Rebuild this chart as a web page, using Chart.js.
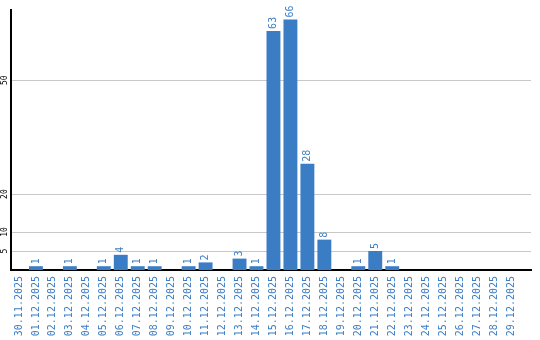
<!DOCTYPE html>
<html>
<head>
<meta charset="utf-8">
<script src="https://cdn.jsdelivr.net/npm/chart.js@4/dist/chart.umd.min.js"></script>
<style>
html,body{margin:0;padding:0;background:#fff;}
#wrap{width:540px;height:340px;position:relative;}
</style>
</head>
<body>
<div id="wrap"><canvas id="c" width="540" height="340"></canvas></div>
<script>
const categories = ["30.11.2025","01.12.2025","02.12.2025","03.12.2025","04.12.2025","05.12.2025","06.12.2025","07.12.2025","08.12.2025","09.12.2025","10.12.2025","11.12.2025","12.12.2025","13.12.2025","14.12.2025","15.12.2025","16.12.2025","17.12.2025","18.12.2025","19.12.2025","20.12.2025","21.12.2025","22.12.2025","23.12.2025","24.12.2025","25.12.2025","26.12.2025","27.12.2025","28.12.2025","29.12.2025"];
const values = [0,1,0,1,0,1,4,1,1,0,1,2,0,3,1,63,66,28,8,0,1,5,1,0,0,0,0,0,0,0];
const yTicks = [5,10,20,50];

const BLUE = '#3b7dc4';
const FONT = {family:'"DejaVu Sans Mono", monospace', size:10};

const points = values.map((v,i)=>({x:i,y:v}));

const valueLabels = {
  id:'valueLabels',
  afterDatasetsDraw(chart){
    const ctx = chart.ctx;
    const meta = chart.getDatasetMeta(0);
    ctx.save();
    ctx.fillStyle = BLUE;
    ctx.font = FONT.size + 'px ' + FONT.family;
    ctx.textAlign = 'left';
    ctx.textBaseline = 'middle';
    meta.data.forEach((bar,i)=>{
      const v = values[i];
      if (!v) return;
      ctx.save();
      ctx.translate(bar.x, bar.y - 2);
      ctx.rotate(-Math.PI/2);
      ctx.fillText(String(v), 0, 0);
      ctx.restore();
    });
    ctx.restore();
  }
};

new Chart(document.getElementById('c'), {
  type:'bar',
  data:{datasets:[{data:points, backgroundColor:BLUE, borderWidth:0, barPercentage:0.82, categoryPercentage:1}]},
  options:{
    responsive:false,
    animation:false,
    events:[],
    layout:{padding:{top:10,right:9,left:0,bottom:0}},
    plugins:{legend:{display:false},tooltip:{enabled:false}},
    scales:{
      x:{
        type:'linear',
        offset:false,
        min:-0.47, max:30.18,
        grid:{display:false, drawTicks:false, offset:false},
        border:{display:true,color:'#000',width:2},
        afterBuildTicks(scale){ scale.ticks = categories.map((c,i)=>({value:i})); },
        afterFit(scale){ scale.height = 70; },
        ticks:{
          autoSkip:false, minRotation:90, maxRotation:90, padding:6,
          color:BLUE, font:FONT,
          callback:(v)=>categories[v] ?? ''
        }
      },
      y:{
        min:0, max:68.5,
        grid:{color:'#c8c8c8', lineWidth:1, drawTicks:false},
        border:{display:true,color:'#000',width:2},
        afterBuildTicks(scale){ scale.ticks = yTicks.map(v=>({value:v})); },
        afterFit(scale){ scale.width = 11; },
        ticks:{
          autoSkip:false, minRotation:90, maxRotation:90, padding:1.5, crossAlign:'center',
          color:'#000', font:{family:'"DejaVu Sans Mono", monospace', size:8},
          callback:(v)=>String(v)
        }
      }
    }
  },
  plugins:[valueLabels]
});
</script>
</body>
</html>
